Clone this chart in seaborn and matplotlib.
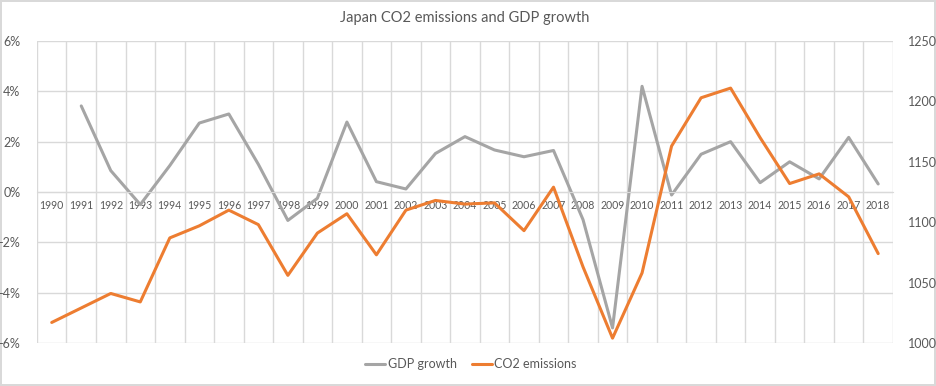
import numpy as np
import pandas as pd
import matplotlib
matplotlib.use('Agg')
import matplotlib.pyplot as plt
from matplotlib.ticker import FuncFormatter, MultipleLocator
import seaborn as sns

# data
years = list(range(1990, 2019))
gdp_growth = [np.nan, 3.42, 0.85, -0.5, 1.05, 2.74, 3.1, 1.1, -1.13, -0.25,
              2.78, 0.41, 0.12, 1.53, 2.2, 1.67, 1.4, 1.65, -1.1, -5.4,
              4.2, -0.12, 1.5, 2.0, 0.37, 1.2, 0.52, 2.17, 0.32]
co2_emissions = [1017, 1029, 1041, 1034, 1087, 1097, 1110, 1098, 1056, 1091,
                 1107, 1073, 1110, 1118, 1115, 1116, 1093, 1129, 1063, 1004,
                 1058, 1163, 1203, 1211, 1170, 1132, 1140, 1121, 1074]

df = pd.DataFrame({'year': years, 'gdp': gdp_growth, 'co2': co2_emissions})

sns.set_style('white')
plt.rcParams['font.family'] = ['Lato', 'DejaVu Sans']
txt = '#595959'
grid_c = '#D9D9D9'

fig = plt.figure(figsize=(9.36, 3.86), dpi=100, edgecolor=grid_c, linewidth=1.5)
ax1 = fig.add_axes([0.0395, 0.1114, 0.9145, 0.7824])
ax2 = ax1.twinx()

sns.lineplot(data=df, x='year', y='gdp', ax=ax1, color='#A5A5A5', linewidth=2.2, label='GDP growth')
sns.lineplot(data=df, x='year', y='co2', ax=ax2, color='#ED7D31', linewidth=2.2, label='CO2 emissions')

ax1.set_xlim(1989.5, 2018.5)
ax1.set_ylim(-6, 6)
ax2.set_ylim(1000, 1250)

ax1.yaxis.set_major_locator(MultipleLocator(2))
ax1.yaxis.set_major_formatter(FuncFormatter(lambda v, p: f'{v:.0f}%'))
ax2.yaxis.set_major_locator(MultipleLocator(50))

ax1.set_xticks(years)
ax1.set_xticklabels([str(y) for y in years])
ax1.set_xticks([y + 0.5 for y in [1989] + years], minor=True)
ax1.grid(True, which='minor', axis='x', color=grid_c, linewidth=1)
ax1.grid(True, which='major', axis='y', color=grid_c, linewidth=1)
ax1.grid(False, which='major', axis='x')

for ax in (ax1, ax2):
    for s in ax.spines.values():
        s.set_visible(False)
    ax.set_xlabel('')
    ax.set_ylabel('')
    ax.tick_params(length=0, which='both', colors=txt, labelsize=9)
    if ax.get_legend():
        ax.get_legend().remove()

# category axis sits on the 0% line, like Excel does it
ax1.spines['bottom'].set_visible(True)
ax1.spines['bottom'].set_position(('data', 0))
ax1.spines['bottom'].set_color(grid_c)
ax1.tick_params(axis='x', labelsize=7.6, pad=6)
ax1.tick_params(axis='y', pad=12)
ax2.tick_params(axis='y', pad=11)

ax1.set_title('Japan CO2 emissions and GDP growth', fontsize=10.5, color=txt, pad=14)

h1, l1 = ax1.get_legend_handles_labels()
h2, l2 = ax2.get_legend_handles_labels()
fig.legend(h1 + h2, l1 + l2, loc='center', bbox_to_anchor=(0.503, 0.057), ncol=2,
           frameon=False, fontsize=9, labelcolor=txt, handlelength=1.6,
           handletextpad=0.2, columnspacing=1.2)

fig.savefig('out.png', dpi=100, edgecolor=fig.get_edgecolor())
